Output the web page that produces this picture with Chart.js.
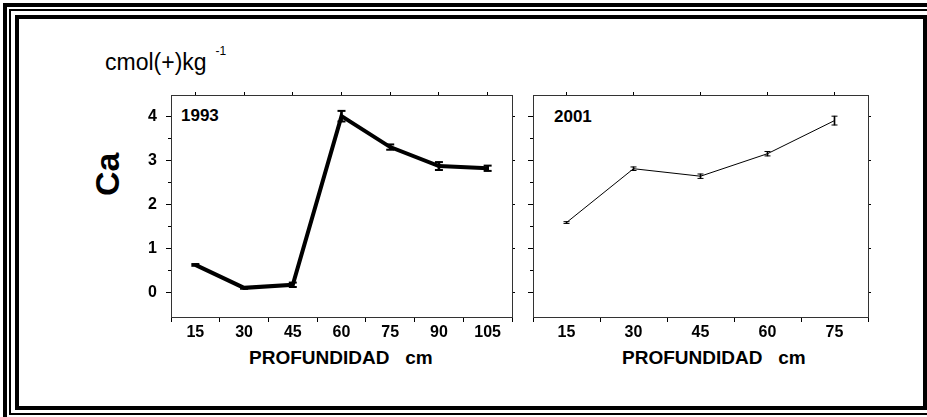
<!DOCTYPE html>
<html lang="es">
<head>
<meta charset="utf-8">
<title>Ca - profundidad</title>
<script src="https://cdn.jsdelivr.net/npm/chart.js@4.4.1/dist/chart.umd.min.js"></script>
<style>
  html, body { margin: 0; padding: 0; background: #fff; }
  body { width: 927px; height: 417px; position: relative; overflow: hidden; font-family: 'Liberation Sans', Arial, sans-serif; color: #000; }
  .frame { position: absolute; box-sizing: border-box; border-style: solid; border-color: #000; }
  #frameOuter { left: 3px; top: 3px; width: 940px; height: 430px; border-width: 4px; }
  #frameMid { left: 9px; top: 9px; width: 930px; height: 406px; border-width: 2px; }
  #frameInner { left: 15px; top: 15px; width: 912px; height: 395px; border-width: 4px; }
  canvas { position: absolute; }
  #chart1993 { left: 80px; top: 85px; }
  #chart2001 { left: 500px; top: 85px; }
  .lbl { position: absolute; white-space: pre; line-height: 1; }
  .units { left: 105px; top: 51px; font-size: 23px; }
  .units sup { font-size: 12px; position: relative; top: -6px; margin-left: 9px; }
  .ytitle { left: 90px; top: 196px; font-size: 34px; font-weight: bold; transform: rotate(-90deg); transform-origin: 0 0; }
  .year { font-size: 17px; font-weight: bold; }
  .xtitle { font-size: 19px; font-weight: bold; top: 348px; }
</style>
</head>
<body>
<div class="frame" id="frameOuter"></div>
<div class="frame" id="frameMid"></div>
<div class="frame" id="frameInner"></div>

<div class="lbl units">cmol(+)kg<sup>-1</sup></div>
<div class="lbl ytitle">Ca</div>
<div class="lbl year" style="left:181px; top:107px;">1993</div>
<div class="lbl year" style="left:554px; top:108px;">2001</div>
<div class="lbl xtitle" style="left:249px;">PROFUNDIDAD   cm</div>
<div class="lbl xtitle" style="left:622px;">PROFUNDIDAD   cm</div>

<canvas id="chart1993" width="450" height="260"></canvas>
<canvas id="chart2001" width="400" height="260"></canvas>

<script>
// Ca (cmol(+)/kg) by depth, 1993 and 2001 profiles
const depth1993 = [15, 30, 45, 60, 75, 90, 105];
const ca1993 = [0.63, 0.11, 0.18, 4.00, 3.30, 2.87, 2.82];
const err1993 = [0.02, 0.02, 0.05, 0.12, 0.06, 0.09, 0.06];

const depth2001 = [15, 30, 45, 60, 75];
const ca2001 = [1.59, 2.81, 2.64, 3.15, 3.90];
const err2001 = [0.02, 0.04, 0.05, 0.05, 0.10];

const yTicks = [0, 1, 2, 3, 4];
const yMinorTicks = [0.5, 1.5, 2.5, 3.5];
const xTicks1993 = [15, 30, 45, 60, 75, 90, 105];
const xMinor1993 = [22.5, 37.5, 52.5, 67.5, 82.5, 97.5];
const xTicks2001 = [15, 30, 45, 60, 75];
const xMinor2001 = [22.5, 37.5, 52.5, 67.5];

const Y_MIN = -0.55;
const Y_MAX = 4.48;
const tickFont = { family: "'Liberation Sans', Arial, sans-serif", size: 16, weight: 'bold' };
const axisLine = { display: true, color: '#333', width: 1 };

function fixedTicks(values) {
  return (scale) => { scale.ticks = values.map((v) => ({ value: v })); };
}
// pin the axis size and drop the label overhang padding so both panels share one plot box
function fixedSize(prop, size) {
  return (scale) => {
    scale[prop] = size;
    scale.paddingTop = 0;
    scale.paddingBottom = 0;
    scale.paddingLeft = 0;
    scale.paddingRight = 0;
  };
}

function makePanel(canvasId, cfg) {
  const points = cfg.depths.map((d, i) => ({ x: d, y: cfg.values[i] }));
  const bars = cfg.depths.map((d, i) => ({ x: d, y: [cfg.values[i] - cfg.errs[i], cfg.values[i] + cfg.errs[i]] }));
  const caps = cfg.depths.flatMap((d, i) => [
    { x: d, y: cfg.values[i] - cfg.errs[i] },
    { x: d, y: cfg.values[i] + cfg.errs[i] }
  ]);

  const xBase = { type: 'linear', min: cfg.xMin, max: cfg.xMax, offset: false };
  const yBase = { type: 'linear', min: Y_MIN, max: Y_MAX };

  return new Chart(document.getElementById(canvasId), {
    type: 'line',
    data: {
      datasets: [
        {
          data: points,
          borderColor: '#000',
          borderWidth: cfg.lineWidth,
          pointRadius: 0,
          tension: 0,
          order: 0
        },
        {
          type: 'bar',
          data: bars,
          backgroundColor: '#000',
          barThickness: cfg.barWidth,
          grouped: false,
          order: 1
        },
        {
          data: caps,
          showLine: false,
          pointStyle: 'line',
          pointRadius: cfg.capRadius,
          pointBorderWidth: cfg.capWidth,
          pointBorderColor: '#000',
          order: 2
        }
      ]
    },
    options: {
      responsive: false,
      animation: false,
      events: [],
      layout: { padding: { top: 10, right: cfg.padRight, left: 0, bottom: 0 } },
      plugins: { legend: { display: false }, tooltip: { enabled: false } },
      scales: {
        x: {
          ...xBase, position: 'bottom', weight: 1,
          afterBuildTicks: fixedTicks(cfg.xTicks),
          afterFit: fixedSize('height', 28),
          ticks: { font: tickFont, color: '#000', padding: 1, autoSkip: false, maxRotation: 0, callback: (v) => String(v) },
          grid: { drawOnChartArea: false, tickLength: 5, tickColor: '#000' },
          border: axisLine
        },
        xMinor: {
          ...xBase, position: 'bottom', weight: 0,
          afterBuildTicks: fixedTicks(cfg.xMinor),
          afterFit: fixedSize('height', 0),
          ticks: { display: false },
          grid: { drawOnChartArea: false, tickLength: 3, tickColor: '#000' },
          border: { display: false }
        },
        xTop: {
          ...xBase, position: 'top',
          afterBuildTicks: fixedTicks(cfg.xTicks),
          afterFit: fixedSize('height', 0),
          ticks: { display: false },
          grid: { drawOnChartArea: false, tickLength: 3, tickColor: '#000' },
          border: axisLine
        },
        y: {
          ...yBase, position: 'left', weight: 1,
          afterBuildTicks: fixedTicks(yTicks),
          afterFit: fixedSize('width', cfg.yWidth),
          ticks: { display: cfg.yLabels, font: tickFont, color: '#000', padding: 9, callback: (v) => String(v) },
          grid: { drawOnChartArea: false, tickLength: 5, tickColor: '#000' },
          border: axisLine
        },
        yMinor: {
          ...yBase, position: 'left', weight: 0,
          afterBuildTicks: fixedTicks(yMinorTicks),
          afterFit: fixedSize('width', 0),
          ticks: { display: false },
          grid: { drawOnChartArea: false, tickLength: 3, tickColor: '#000' },
          border: { display: false }
        },
        yRight: {
          ...yBase, position: 'right',
          afterBuildTicks: fixedTicks(yTicks),
          afterFit: fixedSize('width', 0),
          ticks: { display: false },
          grid: { drawOnChartArea: false, tickLength: 3, tickColor: '#000' },
          border: axisLine
        }
      }
    }
  });
}

makePanel('chart1993', {
  depths: depth1993, values: ca1993, errs: err1993,
  xTicks: xTicks1993, xMinor: xMinor1993, xMin: 7.5, xMax: 112.5,
  lineWidth: 4, barWidth: 2, capRadius: 4, capWidth: 2,
  yLabels: true, yWidth: 91, padRight: 18
});

makePanel('chart2001', {
  depths: depth2001, values: ca2001, errs: err2001,
  xTicks: xTicks2001, xMinor: xMinor2001, xMin: 7.5, xMax: 82.5,
  lineWidth: 1, barWidth: 1, capRadius: 3, capWidth: 1,
  yLabels: false, yWidth: 33, padRight: 32
});
</script>
</body>
</html>
